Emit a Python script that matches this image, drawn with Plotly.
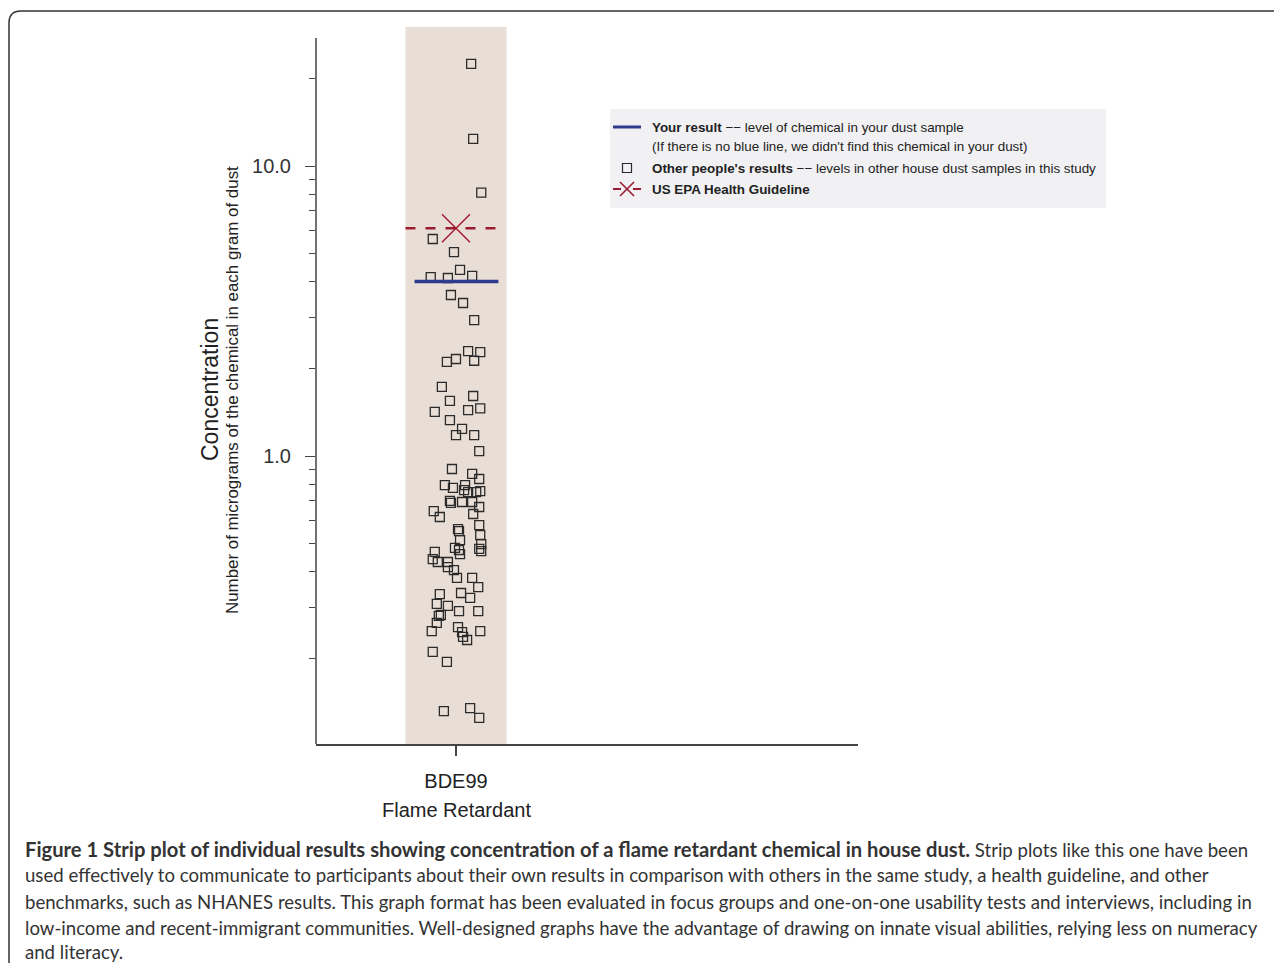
import plotly.graph_objects as go

# ---------------- data ----------------
category_label = "BDE99"
category_sub = "Flame Retardant"
your_result = 4.0
epa_guideline = 6.1

other_results = [
    22.5, 12.4, 8.1, 5.60, 5.05, 4.38, 4.14, 4.11, 4.18, 3.59,
    3.37, 2.94, 2.30, 2.28, 2.11, 2.16, 2.13, 1.73, 1.55, 1.61,
    1.42, 1.44, 1.46, 1.33, 1.24, 1.18, 1.18, 1.04, 0.902, 0.867,
    0.833, 0.794, 0.776, 0.794, 0.763, 0.751, 0.757, 0.751, 0.700, 0.689,
    0.694, 0.694, 0.667, 0.646, 0.616, 0.631, 0.578, 0.560, 0.551, 0.513,
    0.534, 0.497, 0.478, 0.470, 0.482, 0.474, 0.459, 0.467, 0.441, 0.431,
    0.431, 0.414, 0.404, 0.380, 0.380, 0.353, 0.334, 0.337, 0.324, 0.309,
    0.304, 0.292, 0.292, 0.283, 0.281, 0.266, 0.249, 0.257, 0.247, 0.238,
    0.232, 0.249, 0.211, 0.195, 0.132, 0.135, 0.125,
]
jitter = [
    0.15, 0.17, 0.25, -0.23, -0.02, 0.04, -0.25, -0.08, 0.16, -0.05,
    0.07, 0.18, 0.12, 0.24, -0.09, 0.00, 0.18, -0.14, -0.06, 0.17,
    -0.21, 0.12, 0.24, -0.06, 0.06, 0.00, 0.18, 0.23, -0.04, 0.16,
    0.23, -0.11, -0.03, 0.09, 0.08, 0.20, 0.24, 0.12, -0.06, -0.05,
    0.06, 0.16, 0.23, -0.22, -0.16, 0.17, 0.23, 0.02, 0.03, 0.04,
    0.24, 0.25, 0.23, 0.25, -0.01, 0.03, 0.04, -0.21, -0.23, -0.18,
    -0.08, -0.08, -0.02, 0.01, 0.16, 0.22, -0.16, 0.05, 0.14, -0.19,
    -0.08, 0.03, 0.22, -0.15, -0.17, -0.19, -0.24, 0.02, 0.06, 0.07,
    0.11, 0.24, -0.23, -0.09, -0.12, 0.14, 0.23,
]
y_major_ticks = [1, 10]
y_major_text = ["1.0", "10.0"]
y_minor_ticks = [0.2, 0.3, 0.4, 0.5, 0.6, 0.7, 0.8, 0.9, 2, 3, 4, 5, 6, 7, 8, 9, 20]

caption_lines = [
    "<b><span style=\"font-size:20.2px\">Figure 1 Strip plot of individual results showing concentration of a flame retardant chemical in house dust.</span></b> Strip plots like this one have been",
    "used effectively to communicate to participants about their own results in comparison with others in the same study, a health guideline, and other",
    "benchmarks, such as NHANES results. This graph format has been evaluated in focus groups and one-on-one usability tests and interviews, including in",
    "low-income and recent-immigrant communities. Well-designed graphs have the advantage of drawing on innate visual abilities, relying less on numeracy",
    "and literacy.",
]
caption_y = [849, 875, 902, 928, 952]
legend_lines = [
    "<b>Your result</b> \u2212\u2212 level of chemical in your dust sample",
    "(If there is no blue line, we didn't find this chemical in your dust)",
    "<b>Other people's results</b> \u2212\u2212 levels in other house dust samples in this study",
    "<b>US EPA Health Guideline</b>",
]

# ---------------- layout geometry ----------------
OFF = 8
W, H = 1266, 955
ML, MR, MT, MB = 308, 416, 19, 219
PW, PH = W - ML - MR, H - MT - MB


def px(X):
    return (X - OFF - ML) / PW


def py(Y):
    return (H - MB - (Y - OFF)) / PH


FONT = "Liberation Sans, Arial, sans-serif"
CAP_FONT = "Lato, sans-serif"
BLUE = "#2e3a8c"
RED = "#9b1b30"

fig = go.Figure()

fig.add_trace(go.Scatter(
    x=jitter, y=other_results, mode="markers",
    marker=dict(symbol="square-open", size=9, color="#2b2b2b", line=dict(width=1.3)),
    showlegend=False, hoverinfo="y",
))
fig.add_trace(go.Scatter(
    x=[-0.41, 0.42], y=[your_result, your_result], mode="lines",
    line=dict(color=BLUE, width=3.5), showlegend=False,
))
fig.add_trace(go.Scatter(
    x=[-0.5, 0.41], y=[epa_guideline, epa_guideline], mode="lines",
    line=dict(color=RED, width=2.5, dash="10px,10px"), showlegend=False,
))
fig.add_trace(go.Scatter(
    x=[0], y=[epa_guideline], mode="markers",
    marker=dict(symbol="x-thin", size=28, color="#a3192f",
                line=dict(color="#a3192f", width=1.4)),
    showlegend=False,
))

shapes = []
shapes.append(dict(type="rect", xref="x", yref="paper", x0=-0.5, x1=0.5, y0=0, y1=1,
                   fillcolor="#e9ded5", line=dict(width=0), layer="below"))
shapes.append(dict(type="line", xref="paper", yref="paper", x0=0, x1=0, y0=0, y1=py(38),
                   line=dict(color="#444444", width=1.5)))
shapes.append(dict(type="rect", xref="paper", yref="paper", x0=px(610), x1=px(1106),
                   y0=py(208), y1=py(109), fillcolor="#f1f1f3", line=dict(width=0), layer="below"))
shapes.append(dict(type="line", xref="paper", yref="paper", x0=px(613), x1=px(641),
                   y0=py(127), y1=py(127), line=dict(color=BLUE, width=3)))
shapes.append(dict(type="rect", xref="paper", yref="paper", x0=px(622.5), x1=px(631.5),
                   y0=py(172.5), y1=py(163.5), line=dict(color="#2b2b2b", width=1.2)))
shapes.append(dict(type="line", xref="paper", yref="paper", x0=px(613), x1=px(621),
                   y0=py(189), y1=py(189), line=dict(color=RED, width=2)))
shapes.append(dict(type="line", xref="paper", yref="paper", x0=px(633), x1=px(641),
                   y0=py(189), y1=py(189), line=dict(color=RED, width=2)))
shapes.append(dict(type="line", xref="paper", yref="paper", x0=px(620), x1=px(634),
                   y0=py(182), y1=py(196), line=dict(color=RED, width=1.6)))
shapes.append(dict(type="line", xref="paper", yref="paper", x0=px(620), x1=px(634),
                   y0=py(196), y1=py(182), line=dict(color=RED, width=1.6)))
path = "M {a},{b} L {c},{d} Q {e},{f} {g},{h} L {i},{j}".format(
    a=px(9), b=py(1000), c=px(9), d=py(23), e=px(9), f=py(11), g=px(21), h=py(11),
    i=px(1300), j=py(11))
shapes.append(dict(type="path", xref="paper", yref="paper", path=path,
                   line=dict(color="#333333", width=1.5)))

annotations = []
annotations.append(dict(xref="paper", yref="paper", x=px(210), y=py(390), text="Concentration",
                        textangle=-90, showarrow=False, xanchor="center", yanchor="middle",
                        font=dict(family=FONT, size=23, color="#222222")))
annotations.append(dict(xref="paper", yref="paper", x=px(233), y=py(390),
                        text="Number of micrograms of the chemical in each gram of dust",
                        textangle=-90, showarrow=False, xanchor="center", yanchor="middle",
                        font=dict(family=FONT, size=16.9, color="#222222")))
annotations.append(dict(xref="paper", yref="paper", x=px(456), y=py(810), text=category_sub,
                        showarrow=False, xanchor="center", yanchor="middle",
                        font=dict(family=FONT, size=20, color="#222222")))
for txt, yy in zip(legend_lines, [127, 146, 168, 189]):
    annotations.append(dict(xref="paper", yref="paper", x=px(650), y=py(yy), text=txt,
                            showarrow=False, xanchor="left", yanchor="middle",
                            font=dict(family=FONT, size=13.4, color="#222222")))
for txt, yy in zip(caption_lines, caption_y):
    annotations.append(dict(xref="paper", yref="paper", x=px(23), y=py(yy), text=txt,
                            showarrow=False, xanchor="left", yanchor="middle",
                            font=dict(family=CAP_FONT, size=18.6, color="#333333")))

fig.update_layout(
    width=W, height=H,
    margin=dict(l=ML, r=MR, t=MT, b=MB, pad=0),
    paper_bgcolor="white", plot_bgcolor="white",
    showlegend=False,
    shapes=shapes, annotations=annotations,
    xaxis=dict(
        range=[-1.386, 3.980], showgrid=False, zeroline=False,
        showline=True, linecolor="#444444", linewidth=1.5,
        tickmode="array", tickvals=[0], ticktext=[category_label],
        ticks="outside", ticklen=10, tickwidth=1.5, tickcolor="#444444",
        ticklabelstandoff=8,
        tickfont=dict(family=FONT, size=20, color="#222222"),
    ),
    yaxis=dict(
        type="log", range=[-0.9931, 1.4793], showgrid=False, zeroline=False, showline=False,
        tickmode="array", tickvals=y_major_ticks, ticktext=y_major_text,
        ticks="outside", ticklen=10, tickwidth=1.3, tickcolor="#444444",
        tickfont=dict(family=FONT, size=20, color="#333333"),
        ticklabelstandoff=10,
        minor=dict(tickmode="array", tickvals=y_minor_ticks, ticks="outside",
                   ticklen=6, tickwidth=1.1, tickcolor="#444444", showgrid=False),
    ),
)

fig.write_html("out.html")
